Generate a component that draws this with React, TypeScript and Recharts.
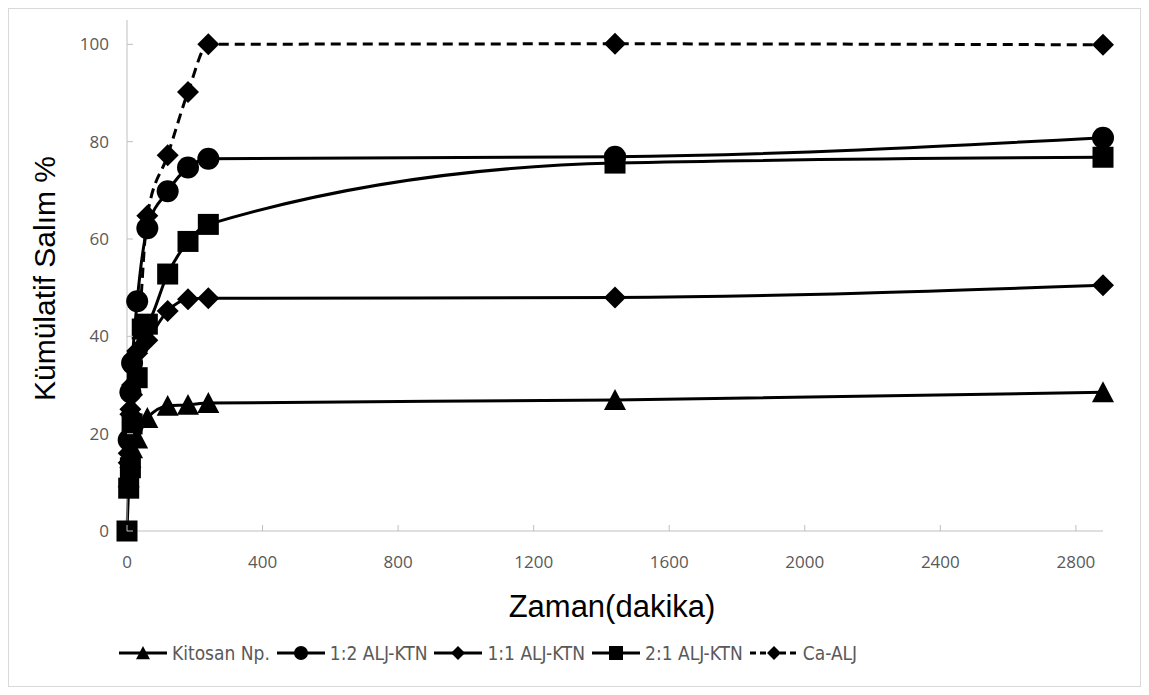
import React from 'react';
import { LineChart, Line, XAxis, YAxis, Legend, Label } from 'recharts';

const times = [0, 5, 10, 15, 30, 45, 60, 120, 180, 240, 1440, 2880];
const kitosan = [null, 11, 15, 17, 19, null, 23.2, 25.7, 25.9, 26.3, 26.9, 28.5];
const alj12 = [null, 18.7, 28.5, 34.5, 47.2, null, 62.2, 69.8, 74.7, 76.5, 76.9, 80.8];
const alj11 = [null, 14, 24, 28, 36.5, null, 39.2, 45.2, 47.6, 47.8, 48.0, 50.5];
const alj21 = [0, 8.8, 13, 22, 31.5, 41.5, 42.5, 52.8, 59.5, 63, 75.6, 76.8];
const caAlj = [null, 16, 25, 30, 37, null, 64.8, 77.2, 90.2, 100, 100.1, 99.9];

const xTicks = [0, 400, 800, 1200, 1600, 2000, 2400, 2800];
const yTicks = [0, 20, 40, 60, 80, 100];

const seriesNames = ['Kitosan Np.', '1:2 ALJ-KTN', '1:1 ALJ-KTN', '2:1 ALJ-KTN', 'Ca-ALJ'];

const data = times.map((t, i) => ({
  t,
  kit: kitosan[i],
  a12: alj12[i],
  a11: alj11[i],
  a21: alj21[i],
  ca: caAlj[i],
}));

type Shape = 'tri' | 'circle' | 'diamond' | 'square';

const marker = (shape: Shape, cx: number, cy: number, s: number, key?: any) => {
  if (cx == null || cy == null || isNaN(cx) || isNaN(cy)) return <g key={key} />;
  if (shape === 'tri')
    return <path key={key} d={`M${cx},${cy - s} L${cx + s},${cy + s * 0.9} L${cx - s},${cy + s * 0.9} Z`} fill="#000" />;
  if (shape === 'circle') return <circle key={key} cx={cx} cy={cy} r={s} fill="#000" />;
  if (shape === 'square') return <rect key={key} x={cx - s} y={cy - s} width={2 * s} height={2 * s} fill="#000" />;
  return <path key={key} d={`M${cx},${cy - s} L${cx + s},${cy} L${cx},${cy + s} L${cx - s},${cy} Z`} fill="#000" />;
};

const dotFn = (shape: Shape, s: number) => (props: any) => marker(shape, props.cx, props.cy, s, `${shape}-${props.index}`);

const shapes: Shape[] = ['tri', 'circle', 'diamond', 'square', 'diamond'];
const dashed = [false, false, false, false, true];

const XTick = (props: any) => {
  const { x, y, payload } = props;
  return (
    <g>
      <line x1={x} x2={x} y1={y} y2={y - 6} stroke="#bfbfbf" strokeWidth={1} />
      <text x={x} y={y + 37} textAnchor="middle" fill="#595959" fontSize={17} fontFamily="'Open Sans', sans-serif">
        {payload.value}
      </text>
    </g>
  );
};

const YTick = (props: any) => {
  const { x, y, payload } = props;
  return (
    <g>
      <line x1={x} x2={x + 6} y1={y} y2={y} stroke="#bfbfbf" strokeWidth={1} />
      <text x={x - 18} y={y} dy="0.35em" textAnchor="end" fill="#595959" fontSize={17} fontFamily="'Open Sans', sans-serif">
        {payload.value}
      </text>
    </g>
  );
};

const LegendContent = () => (
  <div style={{ display: 'flex', alignItems: 'center', height: 30, paddingLeft: 109 }}>
    {seriesNames.map((name, i) => (
      <div key={name} style={{ display: 'flex', alignItems: 'center', marginRight: 6 }}>
        <svg width={50} height={20}>
          <line x1={1} x2={49} y1={10} y2={10} stroke="#000" strokeWidth={3} strokeDasharray={dashed[i] ? '6 4' : undefined} />
          {marker(shapes[i], 25, 10, 7)}
        </svg>
        <span
          style={{
            marginLeft: 4,
            fontFamily: "'DejaVu Sans Condensed', sans-serif",
            fontSize: 19,
            color: '#595959',
            whiteSpace: 'nowrap',
          }}
        >
          {name}
        </span>
      </div>
    ))}
  </div>
);

export default function App() {
  const keys = ['kit', 'a12', 'a11', 'a21', 'ca'];
  return (
    <div
      style={{
        width: 1133,
        height: 679,
        border: '1px solid #d9d9d9',
        boxSizing: 'border-box',
        position: 'relative',
        background: '#fff',
      }}
    >
      <LineChart width={1131} height={677} data={data} margin={{ top: 11, right: 37, left: 0, bottom: 65 }}>
        <XAxis
          dataKey="t"
          type="number"
          domain={[0, 2880]}
          ticks={xTicks}
          tickSize={0}
          tickMargin={0}
          tickLine={false}
          height={60}
          stroke="#bfbfbf"
          tick={<XTick />}
          interval={0}
        >
          <Label
            content={(p: any) => {
              const vb = p.viewBox;
              return (
                <text
                  x={vb.x + vb.width / 2 - 3}
                  y={vb.y + 86}
                  textAnchor="middle"
                  fontSize={31}
                  fill="#000"
                  fontFamily="'Liberation Sans', Arial, sans-serif"
                >
                  Zaman(dakika)
                </text>
              );
            }}
          />
        </XAxis>
        <YAxis
          type="number"
          domain={[0, 105]}
          ticks={yTicks}
          tickSize={0}
          tickMargin={0}
          tickLine={false}
          width={118}
          stroke="#bfbfbf"
          tick={<YTick />}
          interval={0}
        >
          <Label
            content={(p: any) => {
              const vb = p.viewBox;
              const cx = 35;
              const cy = vb.y + vb.height / 2 + 3;
              return (
                <text
                  x={cx}
                  y={cy}
                  transform={`rotate(-90 ${cx} ${cy})`}
                  textAnchor="middle"
                  dominantBaseline="central"
                  fontSize={30}
                  fill="#000"
                  fontFamily="'Liberation Sans', Arial, sans-serif"
                >
                  Kümülatif Salım %
                </text>
              );
            }}
          />
        </YAxis>
        <Legend
          verticalAlign="bottom"
          content={<LegendContent />}
          wrapperStyle={{ top: 629, left: 0, width: 1131, height: 30 }}
        />
        {keys.map((k, i) => (
          <Line
            key={k}
            dataKey={k}
            name={seriesNames[i]}
            type="monotone"
            stroke="#000"
            strokeWidth={3}
            strokeDasharray={dashed[i] ? '10 6' : undefined}
            dot={dotFn(shapes[i], shapes[i] === 'square' ? 10.5 : 11)}
            activeDot={false}
            isAnimationActive={false}
            connectNulls
          />
        ))}
      </LineChart>
    </div>
  );
}
